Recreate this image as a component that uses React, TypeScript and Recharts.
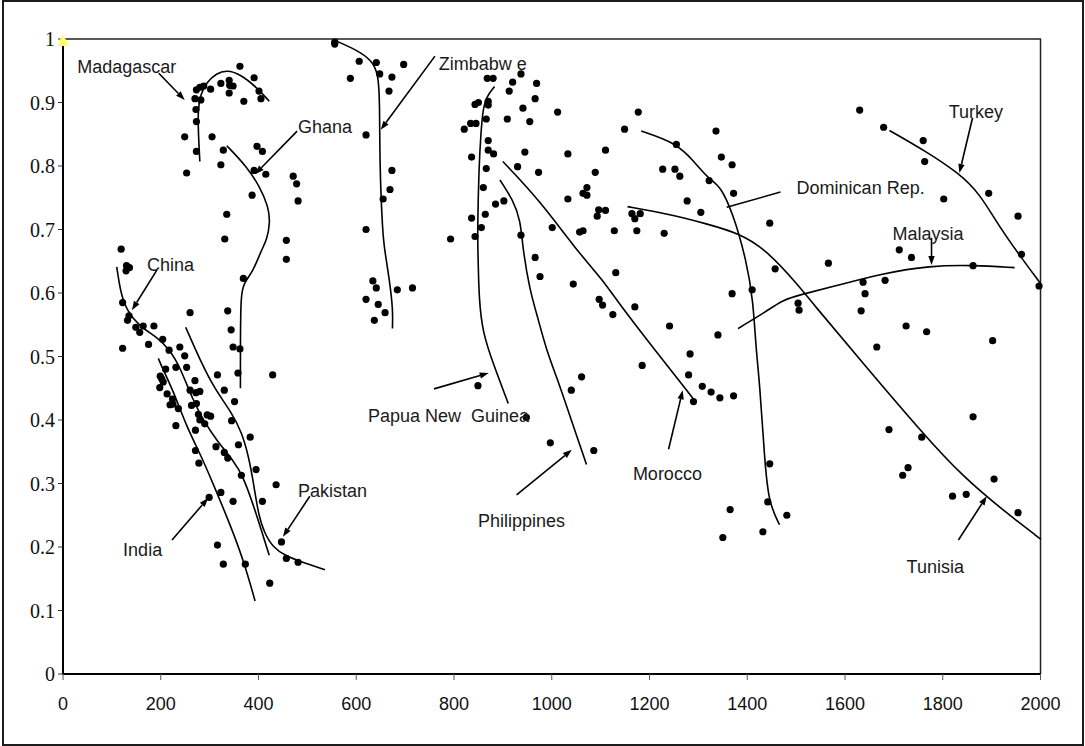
import React from "react"
import { ScatterChart, Scatter, XAxis, YAxis, ReferenceLine } from "recharts"

type Pt = [number, number]

const xTicks = [0, 200, 400, 600, 800, 1000, 1200, 1400, 1600, 1800, 2000]
const yTicks = [0, 0.1, 0.2, 0.3, 0.4, 0.5, 0.6, 0.7, 0.8, 0.9, 1]

// observations, grouped roughly by region of the plot
const lowerLeftPts: Pt[] = [
  [119, 0.669], [130, 0.643], [136, 0.64], [129, 0.635], [122, 0.585], [132, 0.557], [135, 0.564],
  [122, 0.513], [149, 0.546], [157, 0.538], [164, 0.548], [186, 0.548], [175, 0.519], [204, 0.527],
  [217, 0.51], [239, 0.515], [249, 0.501], [231, 0.483], [253, 0.483], [260, 0.569], [210, 0.48],
  [199, 0.469], [202, 0.465], [205, 0.46], [198, 0.451], [213, 0.441], [219, 0.424], [224, 0.433],
  [225, 0.425], [236, 0.418], [231, 0.391], [270, 0.462], [260, 0.447], [272, 0.443], [280, 0.445],
  [263, 0.423], [273, 0.426], [277, 0.409], [280, 0.4], [290, 0.394], [295, 0.408], [302, 0.406],
  [271, 0.384], [316, 0.471], [330, 0.447], [351, 0.429], [345, 0.399], [313, 0.358], [330, 0.349],
  [337, 0.34], [359, 0.361], [383, 0.373], [271, 0.352], [278, 0.332], [365, 0.313], [395, 0.322],
  [436, 0.298], [457, 0.653], [369, 0.623], [337, 0.572], [344, 0.542], [348, 0.515], [362, 0.512],
  [358, 0.474], [429, 0.471], [299, 0.278], [323, 0.286], [348, 0.272], [408, 0.272], [316, 0.203],
  [328, 0.173], [373, 0.173], [423, 0.143], [447, 0.208], [457, 0.182], [481, 0.176],
]

const upperLeftPts: Pt[] = [
  [362, 0.957], [249, 0.846], [253, 0.789], [273, 0.823], [273, 0.87], [272, 0.889], [270, 0.906],
  [273, 0.92], [280, 0.924], [288, 0.926], [282, 0.904], [302, 0.921], [323, 0.93], [340, 0.935],
  [341, 0.927], [348, 0.926], [340, 0.915], [370, 0.902], [391, 0.939], [401, 0.918], [405, 0.906],
  [305, 0.846], [328, 0.825], [323, 0.802], [397, 0.831], [408, 0.823], [391, 0.793], [415, 0.787],
  [387, 0.754], [335, 0.724], [331, 0.685], [457, 0.683], [471, 0.784], [478, 0.772], [481, 0.745],
]

const zimbabwePts: Pt[] = [
  [556, 0.995], [556, 0.992], [606, 0.965], [588, 0.938], [641, 0.963], [648, 0.945], [673, 0.94],
  [697, 0.96], [667, 0.918], [620, 0.849], [673, 0.793], [669, 0.763], [655, 0.748], [620, 0.7],
  [634, 0.619], [641, 0.608], [620, 0.59], [645, 0.582], [659, 0.569], [637, 0.557], [684, 0.605],
  [715, 0.608],
]

const centralPts: Pt[] = [
  [868, 0.938], [880, 0.938], [843, 0.897], [850, 0.9], [870, 0.902], [870, 0.896], [834, 0.867],
  [845, 0.867], [821, 0.858], [866, 0.874], [870, 0.84], [870, 0.825], [881, 0.819], [836, 0.814],
  [866, 0.796], [860, 0.766], [885, 0.74], [864, 0.724], [836, 0.718], [856, 0.703], [843, 0.689],
  [793, 0.685], [937, 0.945], [920, 0.932], [913, 0.918], [969, 0.93], [966, 0.906], [941, 0.891],
  [909, 0.874], [955, 0.87], [1012, 0.885], [945, 0.822], [930, 0.799], [973, 0.79], [902, 0.745],
  [937, 0.691], [966, 0.656], [976, 0.626], [849, 0.454], [948, 0.404], [997, 0.364], [1086, 0.352],
  [1061, 0.468], [1040, 0.447],
]

const middlePts: Pt[] = [
  [1177, 0.885], [1149, 0.858], [1336, 0.855], [1033, 0.819], [1110, 0.825], [1255, 0.834],
  [1347, 0.814], [1369, 0.802], [1089, 0.79], [1227, 0.795], [1252, 0.795], [1262, 0.784],
  [1322, 0.777], [1072, 0.766], [1064, 0.757], [1072, 0.754], [1033, 0.748], [1372, 0.757],
  [1277, 0.745], [1305, 0.727], [1096, 0.731], [1110, 0.73], [1093, 0.721], [1164, 0.725],
  [1170, 0.717], [1181, 0.725], [1001, 0.703], [1057, 0.696], [1064, 0.698], [1128, 0.698],
  [1174, 0.698], [1230, 0.694], [1446, 0.71], [1044, 0.614], [1131, 0.632], [1097, 0.59],
  [1104, 0.581], [1125, 0.566], [1170, 0.578], [1241, 0.548], [1340, 0.534], [1369, 0.599],
  [1410, 0.605], [1457, 0.638], [1504, 0.584], [1506, 0.573], [1283, 0.504], [1185, 0.486],
  [1280, 0.471], [1308, 0.453], [1326, 0.444], [1344, 0.435], [1372, 0.438], [1290, 0.429],
  [1446, 0.331], [1442, 0.271], [1481, 0.25], [1432, 0.224], [1365, 0.259], [1350, 0.215],
]

const rightPts: Pt[] = [
  [1630, 0.888], [1679, 0.861], [1760, 0.84], [1763, 0.807], [1802, 0.748], [1894, 0.757],
  [1954, 0.721], [1961, 0.661], [1997, 0.611], [1566, 0.647], [1711, 0.668], [1736, 0.656],
  [1862, 0.643], [1637, 0.617], [1682, 0.62], [1641, 0.599], [1633, 0.572], [1725, 0.548],
  [1767, 0.539], [1902, 0.525], [1665, 0.515], [1862, 0.405], [1690, 0.385], [1757, 0.373],
  [1729, 0.325], [1718, 0.313], [1905, 0.307], [1820, 0.28], [1848, 0.283], [1954, 0.254],
]

const cornerPt: Pt[] = [[0, 1]]

// fitted country curves
const madagascarCurve: Pt[] = [
  [280, 0.807], [277, 0.85], [276, 0.888], [281, 0.912], [294, 0.932], [314, 0.946], [335, 0.951],
  [362, 0.945], [396, 0.924], [422, 0.902],
]
const ghanaCurve: Pt[] = [
  [335, 0.832], [376, 0.799], [403, 0.767], [420, 0.736], [424, 0.712], [417, 0.683], [406, 0.668],
  [389, 0.634], [369, 0.615], [364, 0.594], [363, 0.536], [363, 0.45],
]
const zimbabweCurve: Pt[] = [
  [556, 0.998], [600, 0.983], [631, 0.967], [645, 0.946], [648, 0.904], [648, 0.799], [654, 0.694],
  [658, 0.668], [669, 0.615], [675, 0.573], [674, 0.544],
]
const chinaCurve: Pt[] = [
  [110, 0.641], [118, 0.6], [130, 0.573], [157, 0.547], [192, 0.531], [219, 0.51], [239, 0.484],
  [266, 0.431], [287, 0.4], [314, 0.368], [348, 0.337], [369, 0.311], [393, 0.258], [410, 0.216],
  [422, 0.187],
]
const pakistanCurve: Pt[] = [
  [251, 0.546], [280, 0.495], [310, 0.449], [345, 0.412], [366, 0.38], [380, 0.342], [390, 0.3],
  [400, 0.25], [412, 0.222], [430, 0.199], [455, 0.186], [490, 0.176], [536, 0.164],
]
const indiaCurve: Pt[] = [
  [195, 0.497], [205, 0.479], [225, 0.447], [253, 0.389], [280, 0.348], [307, 0.3], [341, 0.237],
  [369, 0.18], [393, 0.115],
]
const pngCurve: Pt[] = [
  [883, 0.925], [866, 0.909], [859, 0.888], [855, 0.851], [851, 0.799], [848, 0.694], [849, 0.668],
  [851, 0.589], [859, 0.537], [880, 0.489], [911, 0.426],
]
const philippinesCurve: Pt[] = [
  [894, 0.778], [921, 0.746], [936, 0.715], [941, 0.668], [955, 0.605], [969, 0.568], [989, 0.51],
  [1010, 0.468], [1040, 0.4], [1071, 0.33],
]
const moroccoCurve: Pt[] = [
  [900, 0.807], [975, 0.746], [1050, 0.668], [1105, 0.62], [1132, 0.589], [1211, 0.51], [1289, 0.434],
]
const dominicanCurve: Pt[] = [
  [1183, 0.855], [1255, 0.836], [1289, 0.809], [1323, 0.778], [1344, 0.77], [1371, 0.725],
  [1398, 0.652], [1412, 0.589], [1418, 0.51], [1425, 0.463], [1436, 0.332], [1444, 0.27], [1466, 0.235],
]
const tunisiaCurve: Pt[] = [
  [1155, 0.736], [1248, 0.723], [1316, 0.709], [1384, 0.694], [1439, 0.668], [1507, 0.61],
  [1528, 0.589], [1643, 0.484], [1759, 0.379], [1841, 0.311], [1923, 0.258], [2001, 0.212],
]
const malaysiaCurve: Pt[] = [
  [1381, 0.544], [1439, 0.571], [1473, 0.589], [1507, 0.597], [1575, 0.61], [1678, 0.631],
  [1773, 0.643], [1862, 0.644], [1947, 0.64],
]
const turkeyCurve: Pt[] = [
  [1691, 0.856], [1766, 0.823], [1834, 0.788], [1875, 0.757], [1916, 0.704], [1964, 0.652], [2000, 0.615],
]

// country name labels (text start, vertical centre) and their pointer lines
const labelNames = [
  "Madagascar", "Ghana", "Zimbabw e", "China", "India", "Pakistan", "Papua New  Guinea",
  "Philippines", "Morocco", "Dominican Rep.", "Turkey", "Malaysia", "Tunisia",
]
const labelAt: Pt[] = [
  [29, 0.956], [481, 0.861], [769, 0.961], [172, 0.644], [123, 0.195], [481, 0.288], [624, 0.406],
  [849, 0.241], [1166, 0.315], [1501, 0.765], [1812, 0.885], [1697, 0.693], [1726, 0.169],
]
const pointers: [Pt, Pt, boolean][] = [
  [[196, 0.946], [249, 0.904], true],
  [[479, 0.855], [393, 0.787], true],
  [[761, 0.973], [650, 0.857], true],
  [[192, 0.636], [141, 0.573], true],
  [[223, 0.211], [297, 0.277], true],
  [[505, 0.28], [450, 0.216], true],
  [[759, 0.449], [871, 0.474], true],
  [[928, 0.282], [1041, 0.353], true],
  [[1239, 0.354], [1268, 0.447], true],
  [[1468, 0.759], [1358, 0.735], false],
  [[1861, 0.876], [1834, 0.789], true],
  [[1777, 0.687], [1777, 0.644], true],
  [[1832, 0.211], [1890, 0.28], true],
]

const toXY = (pts: Pt[]) => pts.map(([x, y]) => ({ x, y }))

const dotShape = (p: any) => <circle cx={p.cx} cy={p.cy} r={3.6} fill="#000" />
const noShape = () => <g />
const triangleShape = (p: any) => (
  <polygon
    points={`${p.cx},${p.cy - 5} ${p.cx + 6},${p.cy + 7} ${p.cx - 6},${p.cy + 7}`}
    fill="#ffff70"
  />
)
const textShape = (p: any) => (
  <text
    x={p.cx}
    y={p.cy}
    dominantBaseline="central"
    fontFamily="Liberation Sans, Arial, sans-serif"
    fontSize={18}
    fill="#1a1a1a"
    style={{ whiteSpace: "pre" }}
  >
    {p.payload?.text ?? p.text}
  </text>
)

const arrowShape = (p: any) => {
  const { x1, y1, x2, y2 } = p
  const a = Math.atan2(y2 - y1, x2 - x1)
  const L = 9
  const W = 3.2
  const bx = x2 - L * Math.cos(a)
  const by = y2 - L * Math.sin(a)
  const hx = W * Math.sin(a)
  const hy = -W * Math.cos(a)
  return (
    <g>
      <line x1={x1} y1={y1} x2={bx} y2={by} stroke="#000" strokeWidth={1.6} />
      <polygon points={`${x2},${y2} ${bx + hx},${by + hy} ${bx - hx},${by - hy}`} fill="#000" />
    </g>
  )
}
const plainShape = (p: any) => (
  <line x1={p.x1} y1={p.y1} x2={p.x2} y2={p.y2} stroke="#000" strokeWidth={1.6} />
)

const curves = [
  madagascarCurve, ghanaCurve, zimbabweCurve, chinaCurve, pakistanCurve, indiaCurve, pngCurve,
  philippinesCurve, moroccoCurve, dominicanCurve, tunisiaCurve, malaysiaCurve, turkeyCurve,
]
const pointGroups = [lowerLeftPts, upperLeftPts, zimbabwePts, centralPts, middlePts, rightPts]

export default function App() {
  const labels = labelAt.map(([x, y], i) => ({ x, y, text: labelNames[i] }))

  return (
    <div style={{ position: "absolute", left: 0, top: 0, width: 1085, height: 746, background: "#fff" }}>
      <div
        style={{
          position: "absolute",
          left: 2,
          top: 0,
          width: 1082,
          height: 746,
          border: "2px solid #1c1c1c",
          boxSizing: "border-box",
        }}
      />
      <div style={{ position: "absolute", left: 0, top: 0 }}>
        <ScatterChart width={1085} height={746} margin={{ top: 39, right: 44, bottom: 42, left: 13 }}>
          <XAxis
            type="number"
            dataKey="x"
            domain={[0, 2000]}
            ticks={xTicks}
            height={30}
            axisLine={{ stroke: "#000", strokeWidth: 2 }}
            tickLine={{ stroke: "#555" }}
            tickSize={6}
            tickMargin={17}
            tick={{ fill: "#111", fontSize: 18, fontFamily: "Liberation Sans, Arial, sans-serif" }}
          />
          <YAxis
            type="number"
            dataKey="y"
            domain={[0, 1]}
            ticks={yTicks}
            width={50}
            axisLine={{ stroke: "#000", strokeWidth: 2 }}
            tickLine={{ stroke: "#333" }}
            tickSize={5}
            tickMargin={3}
            tick={{ fill: "#111", fontSize: 20, fontFamily: "Liberation Serif, Times New Roman, serif" }}
            tickFormatter={(v: number) => String(v)}
          />
          <ReferenceLine y={1} stroke="#222" strokeWidth={1.5} />
          <ReferenceLine x={2000} stroke="#222" strokeWidth={1.5} />

          {curves.map((c, i) => (
            <Scatter
              key={"c" + i}
              data={toXY(c)}
              line={{ stroke: "#000", strokeWidth: 1.6 }}
              lineType="joint"
              lineJointType="basis"
              shape={noShape}
              isAnimationActive={false}
            />
          ))}

          {pointGroups.map((g, i) => (
            <Scatter key={"p" + i} data={toXY(g)} shape={dotShape} isAnimationActive={false} />
          ))}

          <Scatter data={toXY(cornerPt)} shape={triangleShape} isAnimationActive={false} />

          {pointers.map(([a, b, head], i) => (
            <ReferenceLine
              key={"a" + i}
              segment={[{ x: a[0], y: a[1] }, { x: b[0], y: b[1] }]}
              shape={head ? arrowShape : plainShape}
              ifOverflow="visible"
            />
          ))}

          <Scatter data={labels} shape={textShape} isAnimationActive={false} />
        </ScatterChart>
      </div>
    </div>
  )
}
